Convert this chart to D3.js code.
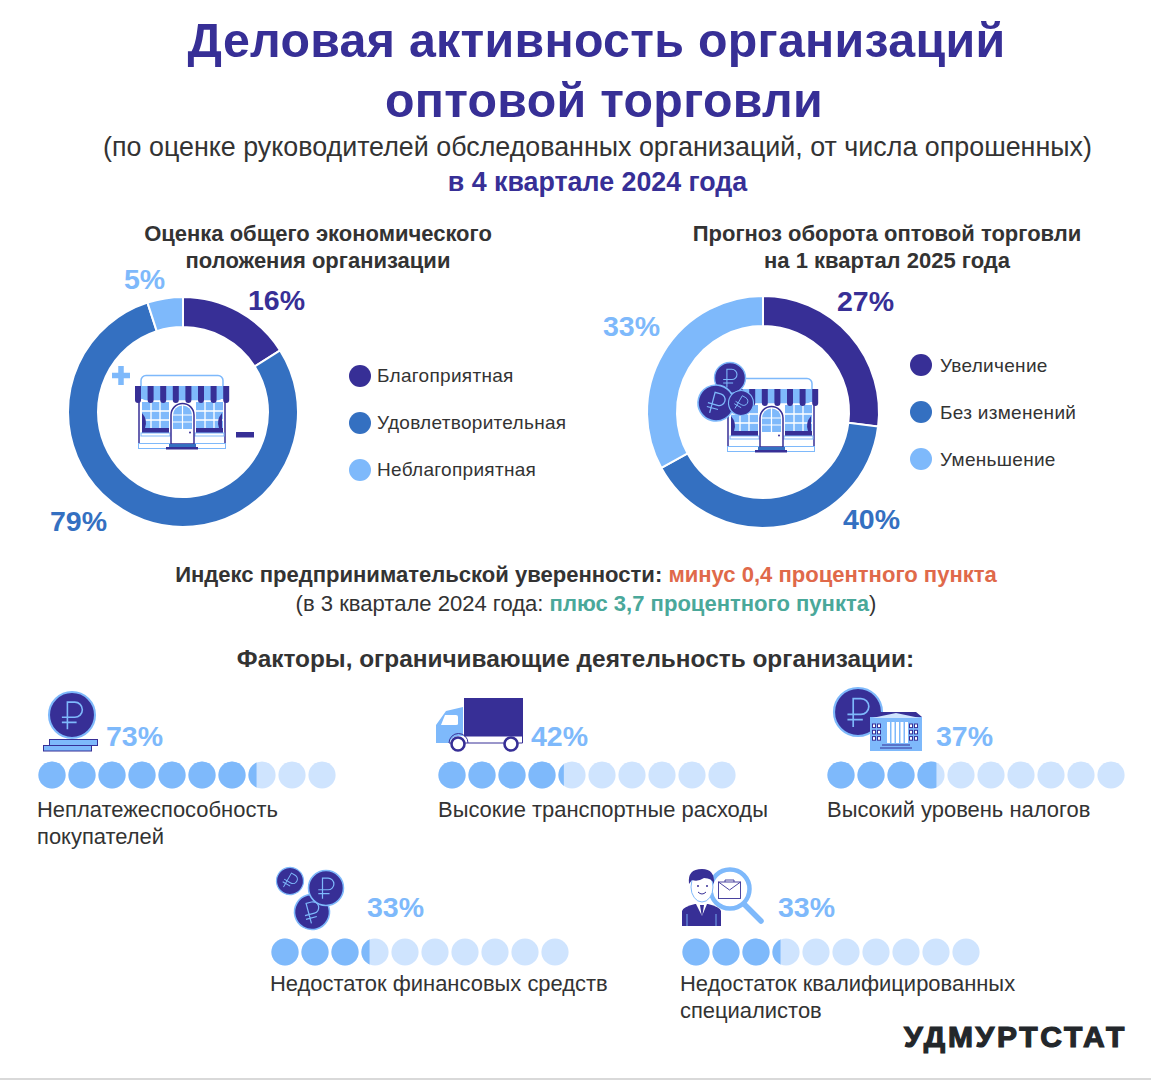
<!DOCTYPE html>
<html>
<head>
<meta charset="UTF-8">
<title>Деловая активность организаций оптовой торговли</title>
<script src="https://d3js.org/d3.v7.min.js"></script>
<style>
  html, body { margin: 0; background: #fff; }
  svg { display: block; }
  text { font-family: "Liberation Sans", Arial, sans-serif; }
</style>
</head>
<body>
<div id="chart"></div>
<script>
// data
var situationLabels = ["Благоприятная", "Удовлетворительная", "Неблагоприятная"];
var situationValues = [16, 79, 5];
var forecastLabels = ["Увеличение", "Без изменений", "Уменьшение"];
var forecastValues = [27, 40, 33];
var factorLabels = [
  ["Неплатежеспособность", "покупателей"],
  ["Высокие транспортные расходы"],
  ["Высокий уровень налогов"],
  ["Недостаток финансовых средств"],
  ["Недостаток квалифицированных", "специалистов"]
];
var factorValues = [73, 42, 37, 33, 33];
var dotsPerRow = d3.range(10);

var DARK = "#372f96", MID = "#3470c1", LIGHT = "#7eb9fb", PALE = "#cfe4fe", TEXT = "#333333";
var sliceColors = [DARK, MID, LIGHT];

var svg = d3.select("#chart").append("svg").attr("width", 1151).attr("height", 1080);

function label(x, y, size, color, str, opts) {
  opts = opts || {};
  return svg.append("text")
    .attr("x", x).attr("y", y)
    .attr("text-anchor", opts.anchor || "start")
    .style("font-size", size + "px")
    .style("font-weight", opts.bold ? "bold" : "normal")
    .style("letter-spacing", (opts.spacing || 0) + "px")
    .attr("fill", color)
    .text(str);
}

// heading
label(596.5, 57, 48.3, DARK, "Деловая активность организаций", {anchor: "middle", bold: true, spacing: 0.3});
label(604, 116.5, 48.3, DARK, "оптовой торговли", {anchor: "middle", bold: true, spacing: 0.3});
label(597.5, 156, 26.85, TEXT, "(по оценке руководителей обследованных организаций, от числа опрошенных)", {anchor: "middle"});
label(597.5, 190.5, 26.8, DARK, "в 4 квартале 2024 года", {anchor: "middle", bold: true});

label(318, 241, 22, TEXT, "Оценка общего экономического", {anchor: "middle", bold: true});
label(318, 268, 22, TEXT, "положения организации", {anchor: "middle", bold: true});
label(887, 241, 22, TEXT, "Прогноз оборота оптовой торговли", {anchor: "middle", bold: true});
label(887, 268, 22, TEXT, "на 1 квартал 2025 года", {anchor: "middle", bold: true});

// donuts
function donut(cx, cy, outer, inner, values) {
  var pie = d3.pie().sort(null);
  var arc = d3.arc().innerRadius(inner).outerRadius(outer);
  svg.append("g").attr("transform", "translate(" + cx + "," + cy + ")")
    .selectAll("path").data(pie(values)).join("path")
    .attr("d", arc)
    .attr("fill", function(d, i) { return sliceColors[i]; })
    .attr("stroke", "#fff").attr("stroke-width", 2);
}
donut(183, 412, 115, 85, situationValues);
donut(763, 412, 116, 86, forecastValues);

var situationPos = [[248, 310], [50, 531], [124, 288.5]];
situationValues.forEach(function(v, i) {
  label(situationPos[i][0], situationPos[i][1], 28.5, sliceColors[i], v + "%", {bold: true});
});
var forecastPos = [[837, 311], [843, 528.5], [603, 336]];
forecastValues.forEach(function(v, i) {
  label(forecastPos[i][0], forecastPos[i][1], 28.5, sliceColors[i], v + "%", {bold: true});
});

function legend(cx, tx, top, dy, names) {
  names.forEach(function(n, i) {
    var y = top + i * 47;
    svg.append("circle").attr("cx", cx).attr("cy", y).attr("r", 11).attr("fill", sliceColors[i]);
    label(tx, y + dy, 19, TEXT, n, {spacing: 0.3});
  });
}
legend(360, 377, 376, 5.5, situationLabels);
legend(921, 940, 365, 6.5, forecastLabels);

// icons
function rubleCoin(parent, x, y, r, rot) {
  var g = parent.append("g").attr("transform", "translate(" + x + "," + y + ") rotate(" + rot + ") scale(" + r + ")");
  g.append("circle").attr("r", 1).attr("fill", DARK).attr("stroke", LIGHT).attr("stroke-width", 0.09);
  g.append("path")
    .attr("d", "M-0.2,0.62V-0.56H0.12A0.33,0.33 0 0 1 0.12,0.1H-0.44M-0.44,0.32H0.2")
    .attr("fill", "none").attr("stroke", LIGHT).attr("stroke-width", 0.07);
}

function shop(x, y) {
  var g = svg.append("g").attr("transform", "translate(" + x + "," + y + ")");
  g.append("rect").attr("x", 6).attr("y", 0.5).attr("width", 82).attr("height", 24).attr("rx", 5)
    .attr("fill", "#fff").attr("stroke", LIGHT).attr("stroke-width", 1.5);
  // walls and windows
  g.append("path").attr("d", "M4,20V68M90,20V68").attr("stroke", DARK).attr("stroke-width", 1.5);
  [7, 61].forEach(function(wx) {
    g.append("rect").attr("x", wx).attr("y", 27).attr("width", 27).attr("height", 31).attr("fill", LIGHT);
    g.append("path").attr("d", "M" + (wx + 9) + ",27V53M" + (wx + 18) + ",27V53M" + wx + ",36H" + (wx + 27) + "M" + wx + ",45H" + (wx + 27))
      .attr("stroke", "#fff").attr("stroke-width", 1.3);
    g.append("rect").attr("x", wx).attr("y", 53).attr("width", 27).attr("height", 5).attr("fill", DARK);
    g.append("rect").attr("x", wx - 1).attr("y", 58).attr("width", 29).attr("height", 3).attr("fill", "#fff").attr("stroke", LIGHT);
  });
  g.append("path").attr("d", "M7,38Q13,45 10,53H7Z").attr("fill", DARK);
  g.append("path").attr("d", "M87,38Q81,45 84,53H87Z").attr("fill", DARK);
  // awning
  g.append("rect").attr("x", 0).attr("y", 11).attr("width", 94).attr("height", 13).attr("fill", LIGHT);
  d3.range(8).forEach(function(i) {
    var sx = i * 12.6;
    g.append("path").attr("d", "M" + sx + ",11h6v14a3,3 0 0 1 -6,0Z").attr("fill", DARK);
  });
  // base
  g.append("rect").attr("x", 3.5).attr("y", 68.5).attr("width", 87).attr("height", 5).attr("fill", "#fff").attr("stroke", LIGHT);
  // door
  g.append("path").attr("d", "M36,69V40A11.5,11.5 0 0 1 59,40V69Z").attr("fill", "#fff").attr("stroke", DARK).attr("stroke-width", 1.5);
  g.append("path").attr("d", "M38,54V40A9.5,9.5 0 0 1 57,40V54Z").attr("fill", LIGHT);
  g.append("path").attr("d", "M47.5,30V54M38,40H57M38,47H57").attr("stroke", "#fff").attr("stroke-width", 1.2);
  g.append("circle").attr("cx", 55).attr("cy", 57.5).attr("r", 1).attr("fill", DARK);
  g.append("rect").attr("x", 34).attr("y", 69).attr("width", 27).attr("height", 3).attr("fill", MID);
  g.append("rect").attr("x", 31).attr("y", 72).attr("width", 32).attr("height", 2.5).attr("fill", DARK);
}

shop(135, 375);
svg.append("path").attr("d", "M121,366V385M112,375.5H130").attr("stroke", LIGHT).attr("stroke-width", 5.5);
svg.append("rect").attr("x", 236).attr("y", 432).attr("width", 18).attr("height", 5.5).attr("fill", DARK);

shop(724, 378);
rubleCoin(svg, 730, 378, 15.5, 0);
rubleCoin(svg, 716, 403, 18, 15);
rubleCoin(svg, 741, 403, 12.5, 30);

// index lines
var line1 = svg.append("text").attr("x", 586).attr("y", 582).attr("text-anchor", "middle")
  .style("font-size", "22.05px").style("font-weight", "bold");
line1.append("tspan").attr("fill", TEXT).text("Индекс предпринимательской уверенности: ");
line1.append("tspan").attr("fill", "#e0694a").text("минус 0,4 процентного пункта");
var line2 = svg.append("text").attr("x", 586).attr("y", 611).attr("text-anchor", "middle")
  .style("font-size", "22.05px");
line2.append("tspan").attr("fill", TEXT).text("(в 3 квартале 2024 года: ");
line2.append("tspan").attr("fill", "#4aa89a").style("font-weight", "bold").text("плюс 3,7 процентного пункта");
line2.append("tspan").attr("fill", TEXT).text(")");

label(575.5, 667, 24.4, TEXT, "Факторы, ограничивающие деятельность организации:", {anchor: "middle", bold: true});

// factor blocks: ten dots, one dot per ten percent
var factorPos = [
  {dots: 52, y: 775, pct: 106, pctY: 745.5, txt: 37, txtY: 817},
  {dots: 452, y: 775, pct: 531, pctY: 745.5, txt: 438, txtY: 817},
  {dots: 841, y: 775, pct: 936, pctY: 745.5, txt: 827, txtY: 817},
  {dots: 285, y: 952, pct: 367, pctY: 916.5, txt: 270, txtY: 991},
  {dots: 696, y: 952, pct: 778, pctY: 916.5, txt: 680, txtY: 991}
];
var R = 13.6;
var dotX = d3.scaleLinear().domain([0, 1]).range([0, 30]);
var dotUnits = d3.scaleLinear().domain([0, 100]).range([0, dotsPerRow.length]);
var defs = svg.append("defs");

factorValues.forEach(function(v, f) {
  var p = factorPos[f];
  var filled = dotUnits(v);
  var id = "clip" + f;
  var xEdge = p.dots + dotX(Math.floor(filled)) - R + (filled - Math.floor(filled)) * 2 * R;
  defs.append("clipPath").attr("id", id).append("rect")
    .attr("x", p.dots - R - 1).attr("y", p.y - R - 1)
    .attr("width", xEdge - (p.dots - R - 1)).attr("height", 2 * R + 2);
  var g = svg.append("g");
  g.selectAll("circle.bg").data(dotsPerRow).join("circle").attr("class", "bg")
    .attr("cx", function(d) { return p.dots + dotX(d); }).attr("cy", p.y).attr("r", R).attr("fill", PALE);
  g.append("g").attr("clip-path", "url(#" + id + ")")
    .selectAll("circle").data(dotsPerRow).join("circle")
    .attr("cx", function(d) { return p.dots + dotX(d); }).attr("cy", p.y).attr("r", R).attr("fill", LIGHT);
  label(p.pct, p.pctY, 28.5, LIGHT, v + "%", {bold: true});
  factorLabels[f].forEach(function(t, i) {
    label(p.txt, p.txtY + i * 27, 21.95, TEXT, t);
  });
});

// factor icons
svg.append("rect").attr("x", 49.5).attr("y", 739.5).attr("width", 48).attr("height", 6).attr("fill", LIGHT).attr("stroke", DARK);
svg.append("rect").attr("x", 43.5).attr("y", 745.5).attr("width", 48).attr("height", 5.5).attr("fill", LIGHT).attr("stroke", DARK);
rubleCoin(svg, 72, 715, 23, 0);

// truck
svg.append("rect").attr("x", 464).attr("y", 698).attr("width", 59).attr("height", 38).attr("fill", DARK);
svg.append("path").attr("d", "M464,736H522.5V743H449").attr("fill", "#fff").attr("stroke", DARK).attr("stroke-width", 1);
svg.append("path").attr("d", "M463,707L446,711L436,725V743H449Q453,734 463,736Z").attr("fill", LIGHT);
svg.append("path").attr("d", "M445,715H456Q458,715 458,717V724Q458,725 456,725H441Z").attr("fill", "#fff");
svg.append("path").attr("d", "M449,743A9.5,9.5 0 0 1 468,743").attr("fill", "none").attr("stroke", DARK).attr("stroke-width", 1);
[458, 511].forEach(function(x) {
  svg.append("circle").attr("cx", x).attr("cy", 744).attr("r", 6.5).attr("fill", "#fff").attr("stroke", DARK).attr("stroke-width", 2.6);
});

// coin and bank
rubleCoin(svg, 858, 712, 24, 0);
var bank = svg.append("g");
bank.append("rect").attr("x", 870).attr("y", 717).attr("width", 52).attr("height", 34).attr("fill", LIGHT);
bank.append("path").attr("d", "M870,717L876,712H916L922,717Z").attr("fill", DARK);
bank.append("path").attr("d", "M872,718L896,713L920,718Z").attr("fill", PALE);
d3.range(5).forEach(function(i) {
  bank.append("rect").attr("x", 887 + i * 4.5).attr("y", 722).attr("width", 3).attr("height", 21).attr("fill", "#fff");
});
d3.range(3).forEach(function(r) {
  [872, 877, 909, 914].forEach(function(x) {
    bank.append("rect").attr("x", x + 0.5).attr("y", 724 + r * 6.3).attr("width", 3).attr("height", 3.6).attr("fill", "#fff").attr("stroke", DARK);
  });
});
bank.append("path").attr("d", "M882,745H910M880,748H912").attr("stroke", DARK).attr("stroke-width", 1);

// three coins
rubleCoin(svg, 290, 881, 13.5, 30);
rubleCoin(svg, 312, 912, 17.5, -15);
rubleCoin(svg, 326, 888, 17.5, 0);

// person with magnifier
svg.append("path").attr("d", "M744,904L761,921").attr("stroke", LIGHT).attr("stroke-width", 5.5).attr("stroke-linecap", "round");
svg.append("circle").attr("cx", 730).attr("cy", 889).attr("r", 19.5).attr("fill", "#fff").attr("stroke", LIGHT).attr("stroke-width", 4.5);
svg.append("rect").attr("x", 718.5).attr("y", 882).attr("width", 22).attr("height", 16.5).attr("fill", "#fff").attr("stroke", DARK).attr("stroke-width", 0.9);
svg.append("path").attr("d", "M718.5,882L729.5,890L740.5,882M725,882V880H734V882").attr("fill", "none").attr("stroke", DARK).attr("stroke-width", 0.9);
svg.append("path").attr("d", "M682,926V911Q683,907 695,904H708Q720,907 721,911V926Z").attr("fill", DARK);
svg.append("path").attr("d", "M696,904L702,916L707,904Z").attr("fill", "#fff");
svg.append("path").attr("d", "M700,905L702,918L704,905Z").attr("fill", DARK);
svg.append("path").attr("d", "M687,914V926M716,914V926").attr("stroke", LIGHT).attr("stroke-width", 0.9);
svg.append("ellipse").attr("cx", 702).attr("cy", 887).attr("rx", 11).attr("ry", 15).attr("fill", "#fff").attr("stroke", LIGHT);
svg.append("path").attr("d", "M689,884Q687,869 702,869Q715,869 714,884Q712,878 704,878Q698,882 692,880Z").attr("fill", DARK);
svg.append("circle").attr("cx", 698).attr("cy", 886).attr("r", 1).attr("fill", DARK);
svg.append("circle").attr("cx", 707).attr("cy", 886).attr("r", 1).attr("fill", DARK);
svg.append("path").attr("d", "M698,892Q702,896 706,892").attr("fill", "none").attr("stroke", DARK);

// footer
label(904, 1047, 30, "#23272b", "УДМУРТСТАТ", {bold: true, spacing: 2.7})
  .attr("stroke", "#23272b").attr("stroke-width", 1.2);
svg.append("rect").attr("x", 0).attr("y", 1078).attr("width", 1151).attr("height", 2).attr("fill", "#d9d9d9");
</script>
</body>
</html>
